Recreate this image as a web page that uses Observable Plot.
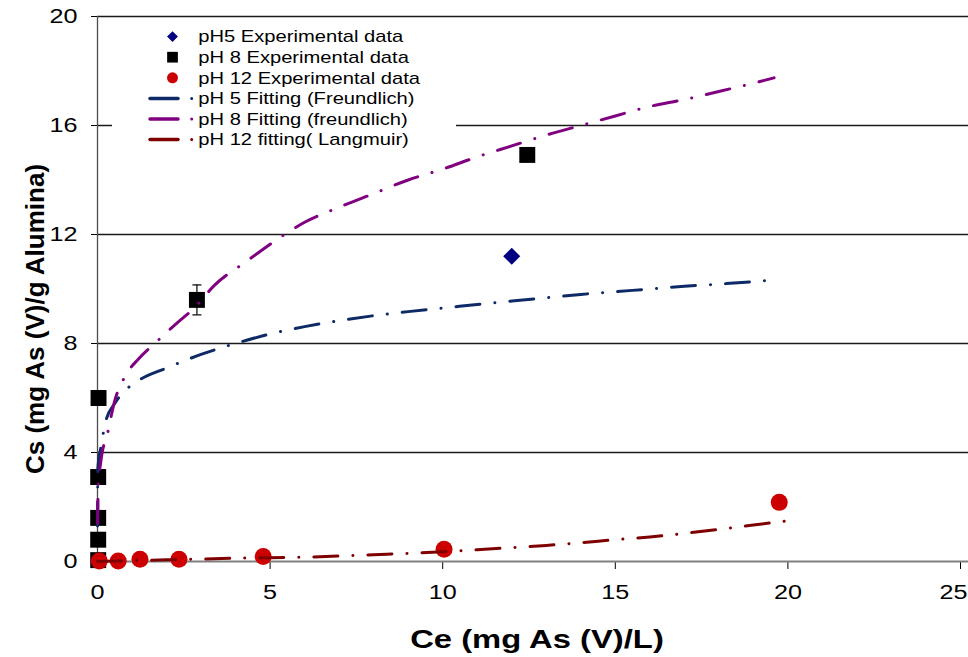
<!DOCTYPE html>
<html>
<head>
<meta charset="utf-8">
<script src="https://cdn.jsdelivr.net/npm/d3@7"></script>
<script src="https://cdn.jsdelivr.net/npm/@observablehq/plot@0.6"></script>
<style>
  body { margin: 0; background: white; }
  #wrap { position: relative; width: 968px; height: 657px; font-family: "Liberation Sans", Arial, sans-serif; }
  #legend { position: absolute; left: 112px; top: 20px; }
</style>
</head>
<body>
<div id="wrap"><div id="chart"></div><svg id="legend" width="344" height="130"></svg></div>
<script>
// ---- data ----
const xTicks = [0, 5, 10, 15, 20, 25];
const yTicks = [0, 4, 8, 12, 16, 20];

const pH5Ce = [12.0];
const pH5Cs = [11.2];

const pH8Ce = [0.02, 0.02, 0.02, 0.02, 0.03, 2.88, 12.45];
const pH8Cs = [0.05, 0.8, 1.6, 3.1, 6.0, 9.6, 14.92];
const pH8Err = [0, 0, 0, 0, 0, 0.55, 0];

const pH12Ce = [0.05, 0.6, 1.23, 2.36, 4.8, 10.04, 19.75];
const pH12Cs = [0.02, 0.02, 0.08, 0.08, 0.18, 0.45, 2.17];

const fit5Ce = [0.002, 0.01, 0.1, 0.24, 0.5, 0.82, 1.2, 2, 3, 4, 5, 6, 7, 8, 9, 10, 11, 12, 13, 14, 15, 16, 17, 18, 19, 19.6];
const fit5Cs = [1.3, 3.4, 4.2, 5.15, 5.8, 6.3, 6.65, 7.1, 7.6, 8.0, 8.35, 8.62, 8.84, 9.02, 9.17, 9.3, 9.43, 9.56, 9.68, 9.8, 9.9, 10.0, 10.1, 10.18, 10.27, 10.34];

const fit8Ce = [0.005, 0.02, 0.1, 0.29, 0.5, 0.8, 1.2, 1.7, 2.3, 2.8, 3.4, 4.3, 5.3, 6, 7, 8, 9, 10, 11, 12, 13, 14, 15, 16, 17, 18, 19, 19.6];
const fit8Cs = [1.4, 2.7, 3.7, 4.7, 5.9, 6.8, 7.45, 8.05, 8.75, 9.3, 10.15, 11.0, 11.9, 12.45, 13.0, 13.5, 14.0, 14.4, 14.85, 15.25, 15.65, 16.0, 16.35, 16.7, 16.95, 17.25, 17.55, 17.75];

const fit12Ce = [0, 1, 2, 3, 4, 5, 6, 7, 8, 9, 10, 11, 12, 13, 14, 15, 16, 17, 18, 19, 19.9];
const fit12Cs = [0, 0.03, 0.06, 0.09, 0.12, 0.14, 0.16, 0.2, 0.25, 0.3, 0.36, 0.43, 0.51, 0.59, 0.69, 0.8, 0.9, 1.03, 1.18, 1.34, 1.48];

const legendLabels = [
  "pH5 Experimental data",
  "pH 8 Experimental data",
  "pH 12 Experimental data",
  "pH 5 Fitting (Freundlich)",
  "pH 8 Fitting (freundlich)",
  "pH 12 fitting( Langmuir)"
];
const xTitle = "Ce (mg As (V)/L)";
const yTitle = "Cs (mg As (V)/g Alumina)";

// ---- build tables ----
const zip = (xs, ys) => xs.map((x, i) => ({x, y: ys[i]}));
const pts5 = zip(pH5Ce, pH5Cs);
const pts8 = zip(pH8Ce, pH8Cs);
const pts12 = zip(pH12Ce, pH12Cs);
const errs = pH8Ce.map((x, i) => ({x, lo: pH8Cs[i] - pH8Err[i], hi: pH8Cs[i] + pH8Err[i], e: pH8Err[i]})).filter(d => d.e > 0);
const caps = errs.flatMap(d => [{x: d.x, y: d.lo}, {x: d.x, y: d.hi}]);
const line5 = zip(fit5Ce, fit5Cs);
const line8 = zip(fit8Ce, fit8Cs);
const line12 = zip(fit12Ce, fit12Cs);

const C = {navy: "#0e2a66", purple: "#800080", dred: "#7f0000", red: "#cc0000", diamond: "#000080"};
const dash = "24,15,0.1,15";
const capSymbol = {draw(ctx) { ctx.moveTo(-4.5, 0); ctx.lineTo(4.5, 0); }};

const svg = Plot.plot({
  width: 968, height: 657,
  marginLeft: 97, marginRight: 8, marginTop: 16, marginBottom: 96,
  style: {fontFamily: "'Liberation Sans', Arial, sans-serif", fontSize: "20px", background: "white", color: "black", overflow: "visible"},
  x: {domain: [0, 25], ticks: xTicks, tickSize: 8, tickPadding: 15, label: null},
  y: {domain: [0, 20], ticks: yTicks, tickSize: 6, tickPadding: 14, label: null},
  marks: [
    Plot.ruleY(yTicks.filter(v => v > 0), {x1: 0, x2: 25.25, stroke: "#1a1a1a", strokeWidth: 1.3}),
    Plot.ruleX([0], {y1: 0, y2: 20, stroke: "#4d4d4d", strokeWidth: 1.3}),
    Plot.ruleY([0], {x1: 0, x2: 25.25, stroke: "#808080", strokeWidth: 1.8}),
    Plot.ruleX(errs, {x: "x", y1: "lo", y2: "hi", stroke: "black", strokeWidth: 1.2}),
    Plot.dot(caps, {x: "x", y: "y", symbol: capSymbol, stroke: "black", strokeWidth: 1.2}),
    Plot.dot(pts5, {x: "x", y: "y", symbol: "diamond2", r: 7.7, fill: C.diamond}),
    Plot.dot(pts8, {x: "x", y: "y", symbol: "square", r: 9, fill: "black"}),
    Plot.dot(pts12, {x: "x", y: "y", r: 8.5, fill: C.red}),
    Plot.line(line5, {x: "x", y: "y", stroke: C.navy, strokeWidth: 3, strokeDasharray: dash, strokeLinecap: "round", curve: "monotone-x"}),
    Plot.line(line8, {x: "x", y: "y", stroke: C.purple, strokeWidth: 3, strokeDasharray: dash, strokeLinecap: "round", curve: "monotone-x"}),
    Plot.line(line12, {x: "x", y: "y", stroke: C.dred, strokeWidth: 3, strokeDasharray: dash, strokeLinecap: "round", curve: "monotone-x"}),
    Plot.text([xTitle], {frameAnchor: "bottom", dx: 8, dy: 78, fontSize: 26, fontWeight: "bold", textAnchor: "middle", lineAnchor: "middle", fill: "black"}),
    Plot.text([yTitle], {frameAnchor: "left", dx: -62, dy: 30, rotate: -90, fontSize: 26, fontWeight: "bold", textAnchor: "middle", lineAnchor: "middle", fill: "black"})
  ]
});
document.getElementById("chart").append(svg);

// horizontal stretch of the text, as in the reference
const STRETCH = 1.26;
svg.querySelectorAll("text").forEach(t => {
  if (t.textContent === yTitle) return;
  const len = t.getComputedTextLength();
  if (len > 0) {
    t.setAttribute("textLength", (len * STRETCH).toFixed(1));
    t.setAttribute("lengthAdjust", "spacingAndGlyphs");
  }
  // last x tick label is pulled inside the picture, as in the reference
  if (t.textContent === String(xTicks[xTicks.length - 1])) t.setAttribute("dx", -7);
});

// ---- legend ----
const lg = d3.select("#legend");
lg.append("rect").attr("width", 344).attr("height", 130).attr("fill", "white");
const rowY = i => 16.6 + 20.6 * i;
const sym = (type, size) => d3.symbol().type(type).size(size)();
lg.append("path").attr("transform", `translate(60.5,${rowY(0)})`).attr("d", sym(d3.symbolDiamond2, 75)).attr("fill", C.diamond);
lg.append("path").attr("transform", `translate(60.5,${rowY(1)})`).attr("d", sym(d3.symbolSquare, 115)).attr("fill", "black");
lg.append("circle").attr("cx", 60.5).attr("cy", rowY(2)).attr("r", 5.5).attr("fill", C.red);
[C.navy, C.purple, C.dred].forEach((c, k) => {
  const y = rowY(3 + k);
  lg.append("line").attr("x1", 38).attr("x2", 66).attr("y1", y).attr("y2", y).attr("stroke", c).attr("stroke-width", 3.5).attr("stroke-linecap", "round");
  lg.append("circle").attr("cx", 79.7).attr("cy", y).attr("r", 1.5).attr("fill", c);
});
legendLabels.forEach((s, i) => {
  lg.append("text").attr("transform", `translate(86.3,${rowY(i)}) scale(${STRETCH},1)`)
    .attr("dy", "0.36em").attr("font-size", 16).attr("fill", "black")
    .attr("font-family", "'Liberation Sans', Arial, sans-serif").text(s);
});
</script>
</body>
</html>
